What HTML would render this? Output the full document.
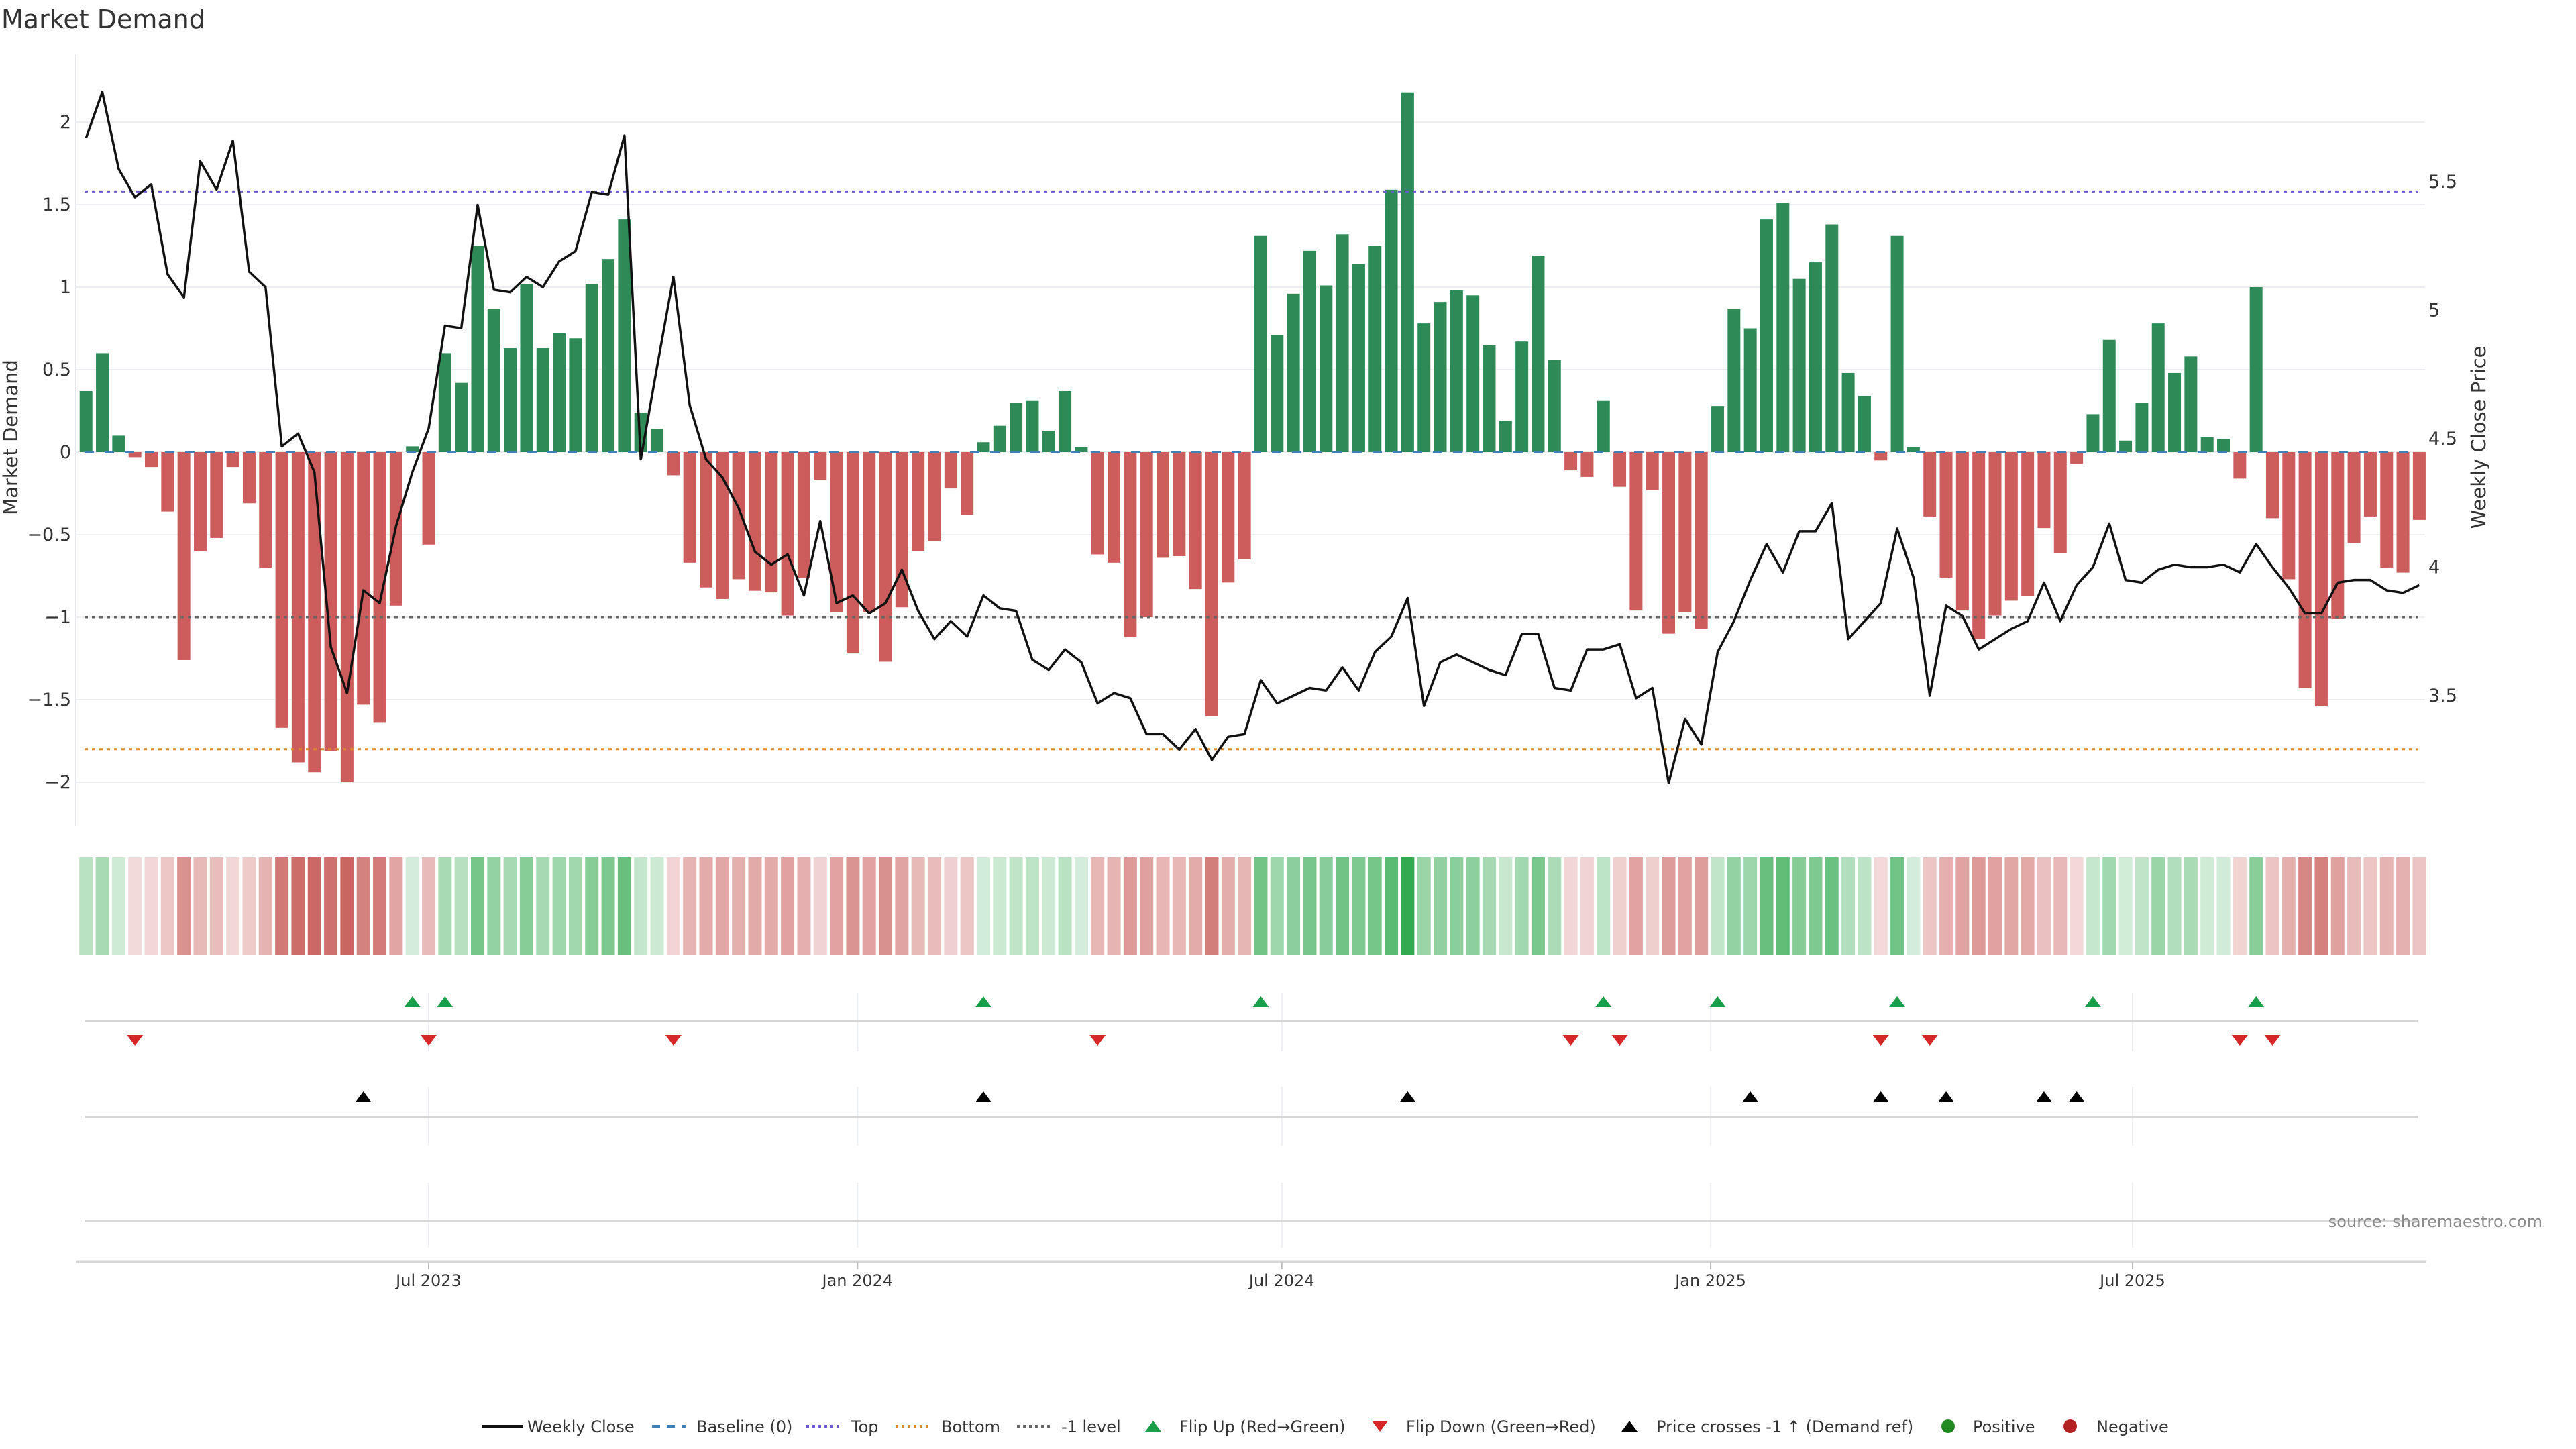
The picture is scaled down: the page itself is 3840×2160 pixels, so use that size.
<!DOCTYPE html>
<html><head><meta charset="utf-8"><title>Market Demand</title>
<style>
html,body{margin:0;padding:0;background:#fff;}
svg{display:block;font-family:"DejaVu Sans","Liberation Sans",sans-serif;}
</style></head>
<body>
<svg id="chart" width="3840" height="2160" viewBox="0 0 3840 2160" xmlns="http://www.w3.org/2000/svg">
<text x="2" y="42" font-size="38" fill="#333">Market Demand</text>
<g id="grid"></g><g id="refs"></g><g id="bars"></g><g id="line"></g><g id="axes"></g>
<g id="heat"></g><g id="markers"></g><g id="legend"></g>
<text x="3790" y="1829" font-size="24" fill="#8a8a8a" text-anchor="end">source: sharemaestro.com</text>
</svg>
<script>
const startDate = '2023-02-04';
const demand = [0.37,0.60,0.10,-0.03,-0.09,-0.36,-1.26,-0.60,-0.52,-0.09,-0.31,-0.70,-1.67,-1.88,-1.94,-1.81,-2.00,-1.53,-1.64,-0.93,
0.035,-0.56,0.60,0.42,1.25,0.87,0.63,1.02,0.63,0.72,0.69,1.02,1.17,1.41,0.24,0.14,-0.14,-0.67,-0.82,-0.89,
-0.77,-0.84,-0.85,-0.99,-0.76,-0.17,-0.97,-1.22,-0.97,-1.27,-0.94,-0.60,-0.54,-0.22,-0.38,0.06,0.16,0.30,0.31,0.13,
0.37,0.03,-0.62,-0.67,-1.12,-1.00,-0.64,-0.63,-0.83,-1.60,-0.79,-0.65,1.31,0.71,0.96,1.22,1.01,1.32,1.14,1.25,
1.59,2.18,0.78,0.91,0.98,0.95,0.65,0.19,0.67,1.19,0.56,-0.11,-0.15,0.31,-0.21,-0.96,-0.23,-1.10,-0.97,-1.07,
0.28,0.87,0.75,1.41,1.51,1.05,1.15,1.38,0.48,0.34,-0.05,1.31,0.03,-0.39,-0.76,-0.96,-1.13,-0.99,-0.90,-0.87,
-0.46,-0.61,-0.07,0.23,0.68,0.07,0.30,0.78,0.48,0.58,0.09,0.08,-0.16,1.00,-0.40,-0.77,-1.43,-1.54,-1.01,-0.55,
-0.39,-0.70,-0.73,-0.41];
const price = [5.67,5.85,5.55,5.44,5.49,5.14,5.05,5.58,5.47,5.66,5.15,5.09,4.47,4.52,4.37,3.69,3.51,3.91,3.86,4.16,
4.37,4.54,4.94,4.93,5.41,5.08,5.07,5.13,5.09,5.19,5.23,5.46,5.45,5.68,4.42,4.78,5.13,4.63,4.42,4.35,
4.23,4.06,4.01,4.05,3.89,4.18,3.86,3.89,3.82,3.86,3.99,3.83,3.72,3.79,3.73,3.89,3.84,3.83,3.64,3.60,
3.68,3.63,3.47,3.51,3.49,3.35,3.35,3.29,3.37,3.25,3.34,3.35,3.56,3.47,3.50,3.53,3.52,3.61,3.52,3.67,
3.73,3.88,3.46,3.63,3.66,3.63,3.60,3.58,3.74,3.74,3.53,3.52,3.68,3.68,3.70,3.49,3.53,3.16,3.41,3.31,
3.67,3.79,3.95,4.09,3.98,4.14,4.14,4.25,3.72,3.79,3.86,4.15,3.96,3.50,3.85,3.81,3.68,3.72,3.76,3.79,
3.94,3.79,3.93,4.00,4.17,3.95,3.94,3.99,4.01,4.00,4.00,4.01,3.98,4.09,4.00,3.92,3.82,3.82,3.94,3.95,
3.95,3.91,3.90,3.93];
const demandTicks = [-2,-1.5,-1,-0.5,0,0.5,1,1.5,2];
const demandTickLabels = ['\u22122','\u22121.5','\u22121','\u22120.5','0','0.5','1','1.5','2'];
const priceTicks = [3.5,4,4.5,5,5.5];
const priceTickLabels = ['3.5','4','4.5','5','5.5'];
const refLevels = [1.58, -1.80, -1.0];
const dateTicks = ['2023-07-01','2024-01-01','2024-07-01','2025-01-01','2025-07-01'];
const dateTickLabels = ['Jul 2023','Jan 2024','Jul 2024','Jan 2025','Jul 2025'];

const NS='http://www.w3.org/2000/svg';
function mk(tag, attrs, parent){const e=document.createElementNS(NS,tag);for(const k in attrs)e.setAttribute(k,attrs[k]);parent.appendChild(e);return e;}
const DAY=86400000, ref0=Date.parse('2023-07-01');
function xScale(ms){return 639+(ms-ref0)/DAY*3.4747;}
function yD(v){return 674-v*246;}
function yP(p){return 271+(5.5-p)*383;}
const dates = demand.map((_,i)=>Date.parse(startDate)+i*7*DAY);
const X0=113, X1=3615;
const g=id=>document.getElementById(id);

demandTicks.forEach((t,i)=>{
  const l=mk('line',{x1:X0,x2:X1,y1:yD(t),y2:yD(t),stroke:'#eceef1','stroke-width':2},g('grid'));
  
  
  const tx=mk('text',{x:106,y:yD(t)+9,'font-size':27,fill:'#333','text-anchor':'end'},g('axes'));
  tx.textContent=demandTickLabels[i];
  
  
});
priceTicks.forEach((t,i)=>{
  const tx=mk('text',{x:3620,y:yP(t)+9,'font-size':27,fill:'#333'},g('axes'));
  tx.textContent=priceTickLabels[i];
  
  
});
const ax=mk('line',{x1:X0,x2:X0,y1:81,y2:1232,stroke:'#e4e6ea','stroke-width':2},g('axes'));


const yt=mk('text',{x:0,y:0,'font-size':29,fill:'#333','text-anchor':'middle',transform:'translate(26,652) rotate(-90)'},g('axes'));
yt.textContent='Market Demand';


const yt2=mk('text',{x:0,y:0,'font-size':29,fill:'#333','text-anchor':'middle',transform:'translate(3705,652) rotate(-90)'},g('axes'));
yt2.textContent='Weekly Close Price';



const refColors=['#6a5acd','#e08a2c','#666'];
refLevels.forEach((v,i)=>{
  const l=mk('line',{x1:126,x2:3604,y1:yD(v),y2:yD(v),stroke:refColors[i],'stroke-width':3,'stroke-dasharray':'5 6'},g('refs'));
  
  
});

demand.forEach((v,i)=>{
  const x=xScale(dates[i]);
  const y=Math.min(yD(v),yD(0)),h=Math.abs(yD(v)-yD(0));
  const r=mk('rect',{x:x-9.5,y:y,width:19,height:h,fill:v>=0?'#2e8b57':'#cd5c5c'},g('bars'));
  
  
});
const bl=mk('line',{x1:126,x2:3604,y1:yD(0),y2:yD(0),stroke:'#3f7fb5','stroke-width':3,'stroke-dasharray':'14 16'},g('refs'));


g('bars').parentNode.insertBefore(g('bars'),g('refs'));

const pts=price.map((p,i)=>xScale(dates[i]).toFixed(1)+','+yP(p).toFixed(1)).join(' ');
const pl=mk('polyline',{points:pts,fill:'none',stroke:'#111','stroke-width':3.5,'stroke-linejoin':'round'},g('line'));



function mix(a,b,t){return 'rgb('+a.map((c,k)=>Math.round(c+(b[k]-c)*t)).join(',')+')';}
demand.forEach((v,i)=>{
  const t=Math.min(Math.abs(v)/2.1,1);
  const col=v>=0?mix([214,238,220],[52,170,80],t):mix([244,220,220],[200,96,92],t);
  const r=mk('rect',{x:xScale(dates[i])-10,y:1278,width:20,height:146,fill:col},g('heat'));
  
  
});

[[1522,3604],[1665,3604],[1820,3604]].forEach(([y,x2])=>{
  const l=mk('line',{x1:126,x2:x2,y1:y,y2:y,stroke:'#d6d6d6','stroke-width':3},g('axes'));
  
  
});
const bx=mk('line',{x1:114,x2:3617,y1:1881,y2:1881,stroke:'#d6d6d6','stroke-width':3},g('axes'));


dateTicks.forEach((d,i)=>{
  const x=xScale(Date.parse(d));
  [[1480,1567],[1620,1708],[1763,1860]].forEach(([a,b])=>{
    const l=mk('line',{x1:x,x2:x,y1:a,y2:b,stroke:'#eceef1','stroke-width':2},g('grid'));
    
    
  });
  const tk=mk('line',{x1:x,x2:x,y1:1881,y2:1892,stroke:'#bbb','stroke-width':2},g('axes'));
  
  
  const tx=mk('text',{x:x,y:1917,'font-size':24,fill:'#333','text-anchor':'middle'},g('axes'));
  tx.textContent=dateTickLabels[i];
  
  
});

function tri(x,y,up,col){
  const p=up?`${x-12},${y+8} ${x+12},${y+8} ${x},${y-8}`:`${x-12},${y-8} ${x+12},${y-8} ${x},${y+8}`;
  return mk('polygon',{points:p,fill:col},g('markers'));
}
const crossLevel=5.5-(yD(-1)-271)/383;
for(let i=1;i<demand.length;i++){
  const x=xScale(dates[i]);
  if(demand[i-1]<0&&demand[i]>=0){const m=tri(x,1493,true,'#1a9e48');
    
    }
  if(demand[i-1]>=0&&demand[i]<0){const m=tri(x,1551,false,'#d62728');
    
    }
  if(price[i-1]<crossLevel&&price[i]>=crossLevel){const m=tri(x,1635,true,'#000');
    
    }
}

const L=g('legend'), ly=2126;
function ltext(x,s){const t=mk('text',{x:x,y:ly+9,'font-size':24,fill:'#333'},L);t.textContent=s;return t;}
const items=[
 ['legend-weekly-close',()=>mk('line',{x1:718,x2:779,y1:ly,y2:ly,stroke:'#111','stroke-width':4},L),786,'Weekly Close'],
 ['legend-baseline',()=>mk('line',{x1:972,x2:1022,y1:ly,y2:ly,stroke:'#3f7fb5','stroke-width':4,'stroke-dasharray':'12 10'},L),1038,'Baseline (0)'],
 ['legend-top',()=>mk('line',{x1:1202,x2:1252,y1:ly,y2:ly,stroke:'#6a5acd','stroke-width':4,'stroke-dasharray':'4 5'},L),1269,'Top'],
 ['legend-bottom',()=>mk('line',{x1:1335,x2:1387,y1:ly,y2:ly,stroke:'#e08a2c','stroke-width':4,'stroke-dasharray':'4 5'},L),1403,'Bottom'],
 ['legend-minus-one',()=>mk('line',{x1:1516,x2:1566,y1:ly,y2:ly,stroke:'#666','stroke-width':4,'stroke-dasharray':'4 5'},L),1582,'-1 level'],
 ['legend-flip-up',()=>mk('polygon',{points:`1707,${ly+8} 1731,${ly+8} 1719,${ly-8}`,fill:'#1a9e48'},L),1758,'Flip Up (Red\u2192Green)'],
 ['legend-flip-down',()=>mk('polygon',{points:`2045,${ly-8} 2069,${ly-8} 2057,${ly+8}`,fill:'#d62728'},L),2096,'Flip Down (Green\u2192Red)'],
 ['legend-price-cross',()=>mk('polygon',{points:`2417,${ly+8} 2441,${ly+8} 2429,${ly-8}`,fill:'#000'},L),2469,'Price crosses -1 \u2191 (Demand ref)'],
 ['legend-positive',()=>mk('circle',{cx:2904,cy:ly,r:10,fill:'#228b22'},L),2941,'Positive'],
 ['legend-negative',()=>mk('circle',{cx:3086,cy:ly,r:10,fill:'#b22222'},L),3125,'Negative']];
items.forEach(([n,f,tx,s])=>{
  const sym=f();
  
  
  const t=ltext(tx,s);
  
  
});
</script>
</body></html>
